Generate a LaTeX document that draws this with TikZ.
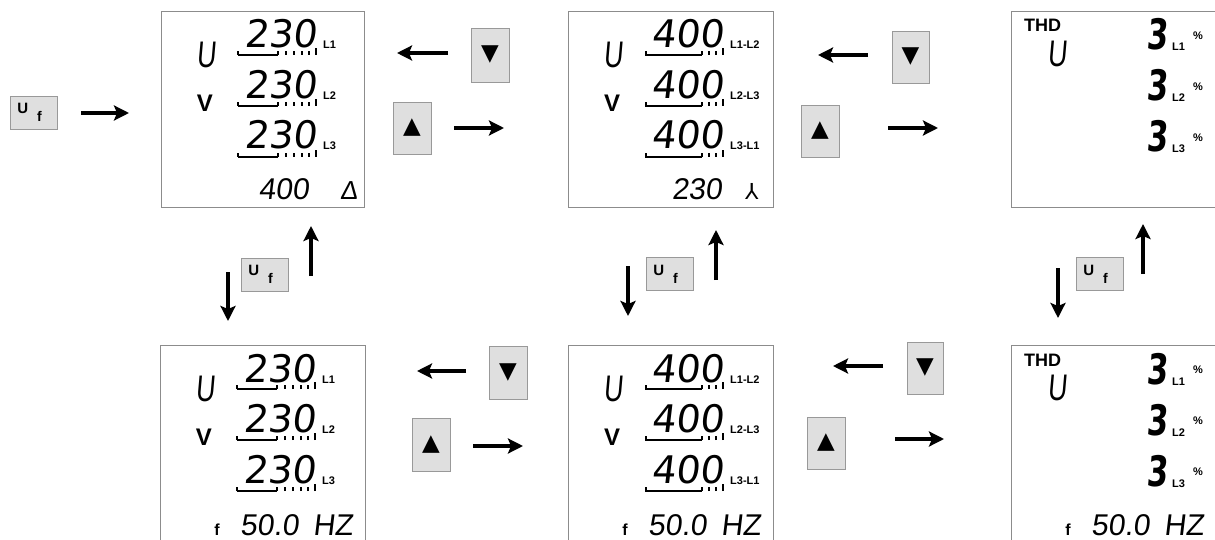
\documentclass[tikz,border=0pt]{standalone}
\usepackage{fontspec}
\usepackage{graphicx}
\setmainfont{Liberation Sans}
\newfontfamily\digfont[FakeSlant=0.12]{DejaVu Sans}
\newfontfamily\thinfont[FakeSlant=0.12]{Liberation Sans}
\newfontfamily\symfont{DejaVu Sans}
\usetikzlibrary{arrows.meta}
\newcommand\bigdig{\digfont\fontsize{38}{38}\selectfont}
\newcommand\smalldig{\thinfont\fontsize{30}{30}\selectfont}
\newcommand\uftext{{\bfseries\fontsize{15}{15}\selectfont U\kern9pt\raisebox{-8pt}{\fontsize{14}{14}\selectfont f}\kern8pt}}
\newcommand\tridown{{\symfont\fontsize{23}{23}\selectfont ▼}}
\newcommand\triup{{\symfont\fontsize{23}{23}\selectfont ▲}}
\tikzset{
  display/.style={draw=black!45, line width=1.2pt, fill=white, inner sep=0pt, anchor=north west},
  btn/.style={draw=black!40, fill=gray!25, line width=0.8pt, inner sep=0pt},
  flow/.style={line width=4.5pt, -{Stealth[length=15pt,width=15pt,inset=3pt]}},
  big/.style={font=\bigdig, inner sep=0pt, anchor=base east},
  smalld/.style={font=\smalldig, inner sep=0pt},
  lcdu/.style={font=\thinfont\fontsize{37}{37}\selectfont, inner sep=0pt},
  vlet/.style={font=\bfseries\fontsize{24}{24}\selectfont, inner sep=0pt},
  lab/.style={font=\bfseries\fontsize{11}{11}\selectfont, inner sep=0pt, anchor=base west},
  thd/.style={font=\bfseries\fontsize{18}{18}\selectfont, inner sep=0pt, anchor=base west},
  three/.style={font=\digfont\bfseries\fontsize{42}{42}\selectfont, inner sep=0pt, anchor=base east},
  pct/.style={font=\bfseries\fontsize{11}{11}\selectfont, inner sep=0pt},
  ffont/.style={font=\bfseries\fontsize{16}{16}\selectfont, inner sep=0pt, anchor=base east},
  barsolid/.style={line width=2pt},
  bartick/.style={line width=1.2pt},
}
% voltage panel: #1 prefix, #2 value, #3 #4 #5 labels, #6 solid end, #7 ticks
\newcommand\voltpanel[7]{%
  \node[lcdu] (#1u) at (45,44) {\scalebox{0.72}[1]{U}};
  \node[vlet] (#1v) at (44,92) {V};
  \foreach \k/\lbl in {0/#3,1/#4,2/#5} {
    \node[big] (#1r\k) at (156,37+50.5*\k) {#2};
    \node[lab] (#1l\k) at (162,38+50.5*\k) {\lbl};
    \draw[barsolid] (77,44+51*\k) -- (#6,44+51*\k);
    \foreach \t in {#7} \draw[bartick] (\t,44+51*\k) -- (\t,40+51*\k);
    \draw[bartick] (155,44+51*\k) -- (155,37+51*\k);
  }
}
\newcommand\thdpanel[1]{%
  \node[thd] (#1t) at (13,21) {THD};
  \node[lcdu] (#1u) at (46,43) {\scalebox{0.72}[1]{U}};
  \foreach \k/\lbl in {0/L1,1/L2,2/L3} {
    \node[three] (#1r\k) at (157,39+51*\k) {\scalebox{0.72}[1]{3}};
    \node[lab] (#1l\k) at (161,40+51*\k) {\lbl};
    \node[pct] (#1p\k) at (187,25+51*\k) {\%};
  }
}
\newcommand\freqline[1]{%
  \node[ffont] (#1f) at (60,190) {f};
  \node[smalld, anchor=base west] (#1hz) at (80,190) {50.0};
  \node[smalld, anchor=base east] (#1hu) at (193,190) {HZ};
}
\begin{document}
\begin{tikzpicture}[x=1pt,y=-1pt]
\useasboundingbox (0,0) rectangle (1215,540);
\fill[white] (0,0) rectangle (1215,540);
\clip (0,0) rectangle (1215,540);

% displays
\node[display, minimum width=203pt, minimum height=196pt] (d1) at (161,11) {};
\node[display, minimum width=205pt, minimum height=196pt] (d2) at (568,11) {};
\node[display, minimum width=214pt, minimum height=196pt] (d3) at (1011,11) {};
\node[display, minimum width=205pt, minimum height=215pt] (d4) at (160,345) {};
\node[display, minimum width=205pt, minimum height=215pt] (d5) at (568,345) {};
\node[display, minimum width=214pt, minimum height=215pt] (d6) at (1011,345) {};

\begin{scope}[shift={(161,11)}]
  \voltpanel{a}{230}{L1}{L2}{L3}{117}{77,117,125,133,141,148}
  \node[smalld, anchor=base east] (abot) at (148,189) {400};
  \node[font=\thinfont\fontsize{26}{26}\selectfont, inner sep=0pt, anchor=base west] (adelta) at (179,189) {Δ};
\end{scope}
\begin{scope}[shift={(568,11)}]
  \voltpanel{b}{400}{L1-L2}{L2-L3}{L3-L1}{134}{78,134,141,148}
  \node[smalld, anchor=base east] (bbot) at (154,189) {230};
  \node[font=\symfont\fontsize{22}{22}\selectfont, inner sep=0pt, anchor=base west] (bwye) at (177,189) {⅄};
\end{scope}
\begin{scope}[shift={(1011,11)}]
  \thdpanel{c}
\end{scope}
\begin{scope}[shift={(160,345)}]
  \voltpanel{d}{230}{L1}{L2}{L3}{117}{77,117,125,133,141,148}
  \freqline{d}
\end{scope}
\begin{scope}[shift={(568,345)}]
  \voltpanel{e}{400}{L1-L2}{L2-L3}{L3-L1}{134}{78,134,141,148}
  \freqline{e}
\end{scope}
\begin{scope}[shift={(1011,345)}]
  \thdpanel{g}
  \freqline{g}
\end{scope}

% buttons
\node[btn, minimum width=47pt, minimum height=33pt] (uf0) at (33.5,112.5) {\uftext};
\node[btn, minimum width=47pt, minimum height=33pt] (uf1) at (264.5,274.5) {\uftext};
\node[btn, minimum width=47pt, minimum height=33pt] (uf2) at (669.5,274) {\uftext};
\node[btn, minimum width=47pt, minimum height=33pt] (uf3) at (1099.5,274) {\uftext};
\node[btn, minimum width=38pt, minimum height=54pt] (dn1) at (490,55) {\tridown};
\node[btn, minimum width=38pt, minimum height=52pt] (up1) at (412,128) {\triup};
\node[btn, minimum width=37pt, minimum height=52pt] (dn2) at (910.5,57) {\tridown};
\node[btn, minimum width=38pt, minimum height=52pt] (up2) at (820,131) {\triup};
\node[btn, minimum width=38pt, minimum height=53pt] (dn3) at (508,372.5) {\tridown};
\node[btn, minimum width=38pt, minimum height=53pt] (up3) at (431,444.5) {\triup};
\node[btn, minimum width=36pt, minimum height=52pt] (dn4) at (925,368) {\tridown};
\node[btn, minimum width=38pt, minimum height=52pt] (up4) at (826,443) {\triup};

% arrow end points
\coordinate (s0) at (81,113);   \coordinate (e0) at (129,113);
\coordinate (s1) at (448,53);   \coordinate (e1) at (397,53);
\coordinate (s2) at (454,128);  \coordinate (e2) at (504,128);
\coordinate (s3) at (868,55);   \coordinate (e3) at (818,55);
\coordinate (s4) at (888,128);  \coordinate (e4) at (938,128);
\coordinate (s5) at (466,371);  \coordinate (e5) at (417,371);
\coordinate (s6) at (473,446);  \coordinate (e6) at (523,446);
\coordinate (s7) at (883,366);  \coordinate (e7) at (833,366);
\coordinate (s8) at (895,439);  \coordinate (e8) at (944,439);
\coordinate (s9) at (228,272);  \coordinate (e9) at (228,321);
\coordinate (s10) at (311,276); \coordinate (e10) at (311,226);
\coordinate (s11) at (628,266); \coordinate (e11) at (628,316);
\coordinate (s12) at (716,280); \coordinate (e12) at (716,230);
\coordinate (s13) at (1058,268); \coordinate (e13) at (1058,318);
\coordinate (s14) at (1143,274); \coordinate (e14) at (1143,224);
\foreach \i in {0,...,14} \draw[flow] (s\i) -- (e\i);
\end{tikzpicture}
\end{document}
